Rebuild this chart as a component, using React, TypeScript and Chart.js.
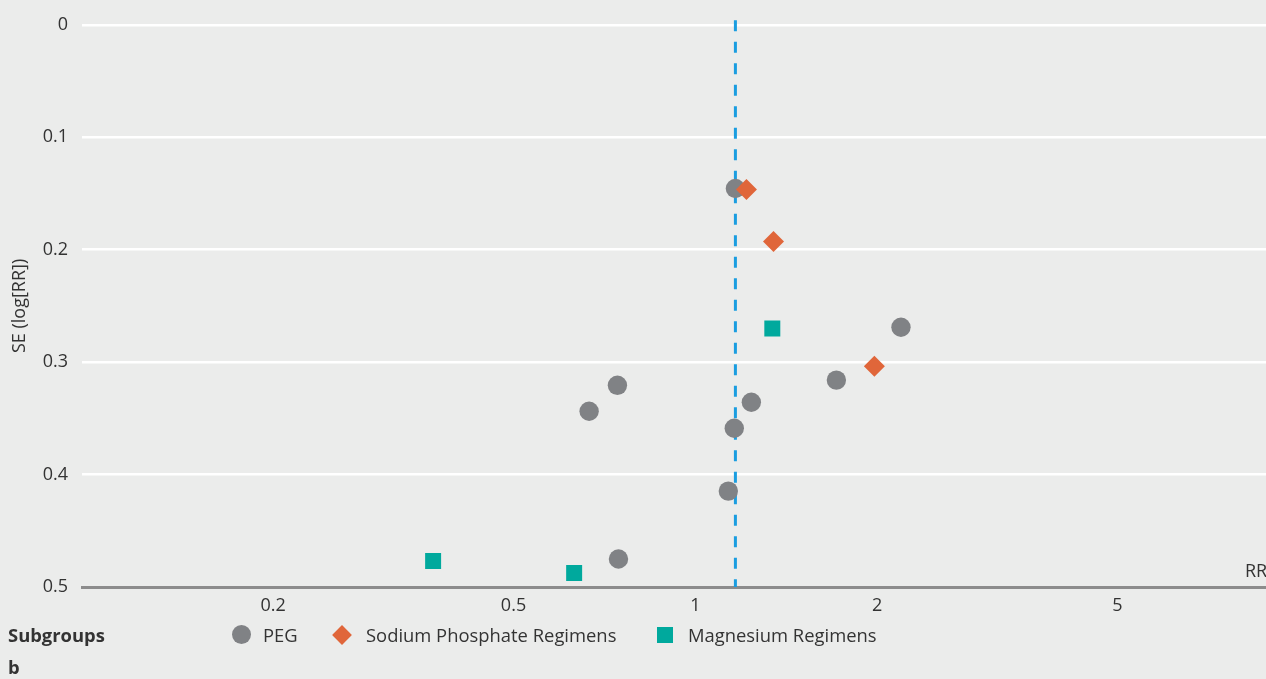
import React, { useEffect, useRef } from "react";
import { Chart, registerables } from "chart.js";

Chart.register(...registerables);

// ---- Data ----
const pegRR = [1.165, 2.19, 0.743, 0.667, 1.238, 1.712, 1.16, 1.134, 0.746];
const pegSE = [0.1456, 0.269, 0.3206, 0.3437, 0.3357, 0.316, 0.3588, 0.4147, 0.4751];

const sodiumRR = [1.215, 1.347, 1.979];
const sodiumSE = [0.1465, 0.1927, 0.3037];

const magnesiumRR = [1.341, 0.368, 0.63];
const magnesiumSE = [0.27, 0.4769, 0.4876];

const pooledRR = 1.165;
const pooledSE = [-0.004, 0.5];

const xTickValues = [0.2, 0.5, 1, 2, 5];
const yTickValues = [0, 0.1, 0.2, 0.3, 0.4, 0.5];

const seriesLabels = ["PEG", "Sodium Phosphate Regimens", "Magnesium Regimens"];

const COLORS = {
  bg: "#ebeceb",
  peg: "#808285",
  sodium: "#e0663a",
  magnesium: "#00a99d",
  pooled: "#1a9de0",
  text: "#333333",
  axis: "#8c8c8c",
};

const FONT = "'Open Sans', 'Noto Sans', sans-serif";

const toPoints = (xs: number[], ys: number[]) => xs.map((x, i) => ({ x, y: ys[i] }));

export default function App() {
  const canvasRef = useRef<HTMLCanvasElement | null>(null);

  useEffect(() => {
    const canvas = canvasRef.current;
    if (!canvas) return;
    const chart = new Chart(canvas, {
      type: "scatter",
      data: {
        datasets: [
          {
            label: "pooled",
            type: "line",
            data: pooledSE.map((y) => ({ x: pooledRR, y })),
            borderColor: COLORS.pooled,
            borderWidth: 3,
            borderDash: [11, 10.5],
            pointRadius: 0,
            clip: false as any,
            order: 4,
          } as any,
          {
            label: seriesLabels[0],
            data: toPoints(pegRR, pegSE),
            pointStyle: "circle",
            pointRadius: 9.7,
            backgroundColor: COLORS.peg,
            borderWidth: 0,
            order: 3,
          },
          {
            label: seriesLabels[1],
            data: toPoints(sodiumRR, sodiumSE),
            pointStyle: "rectRot",
            pointRadius: 10.5,
            backgroundColor: COLORS.sodium,
            borderWidth: 0,
            order: 1,
          },
          {
            label: seriesLabels[2],
            data: toPoints(magnesiumRR, magnesiumSE),
            pointStyle: "rect",
            pointRadius: 11.3,
            backgroundColor: COLORS.magnesium,
            borderWidth: 0,
            order: 2,
          },
        ],
      },
      options: {
        animation: false,
        responsive: false,
        maintainAspectRatio: false,
        layout: { padding: { top: 24, right: 0, bottom: 52, left: 0 } },
        plugins: {
          legend: { display: false },
          tooltip: { enabled: false },
        },
        scales: {
          x: {
            type: "logarithmic",
            min: 0.0965,
            max: 8.83,
            afterBuildTicks: (scale: any) => {
              scale.ticks = xTickValues.map((v) => ({ value: v }));
            },
            afterFit: (scale: any) => {
              scale.height = 40;
            },
            grid: { display: false, drawTicks: false },
            border: { display: true, color: COLORS.axis, width: 3 },
            ticks: {
              color: COLORS.text,
              font: { family: FONT, size: 18 },
              padding: 8,
              autoSkip: false,
              maxRotation: 0,
              callback: (v: any) => String(v),
            },
          },
          y: {
            type: "linear",
            reverse: true,
            min: 0,
            max: 0.5,
            afterBuildTicks: (scale: any) => {
              scale.ticks = yTickValues.map((v) => ({ value: v }));
            },
            afterFit: (scale: any) => {
              scale.width = 82;
            },
            grid: {
              color: "#ffffff",
              lineWidth: 2.5,
              drawTicks: false,
            },
            border: { display: false },
            title: {
              display: true,
              text: "SE (log[RR])",
              color: COLORS.text,
              font: { family: FONT, size: 18 },
              padding: { top: 9, bottom: 0 },
            },
            ticks: {
              color: COLORS.text,
              font: { family: FONT, size: 18 },
              padding: 14,
              callback: (v: any) => String(Number(v)),
            },
          },
        },
      },
    } as any);
    return () => chart.destroy();
  }, []);

  const legendText: React.CSSProperties = {
    position: "absolute",
    top: 622,
    fontFamily: FONT,
    fontSize: 18.4,
    color: COLORS.text,
    lineHeight: "26px",
    whiteSpace: "nowrap",
  };

  return (
    <div
      style={{
        position: "fixed",
        left: 0,
        top: 0,
        width: 1266,
        height: 679,
        background: COLORS.bg,
        overflow: "hidden",
      }}
    >
      <canvas ref={canvasRef} width={1278} height={679} style={{ display: "block" }} />
      <div style={{ ...legendText, left: 1245, top: 557, fontSize: 18 }}>RR</div>
      <div style={{ ...legendText, left: 8, fontWeight: 700 }}>Subgroups</div>
      <div
        style={{
          position: "absolute",
          left: 232,
          top: 625,
          width: 19,
          height: 19,
          borderRadius: "50%",
          background: COLORS.peg,
        }}
      />
      <div style={{ ...legendText, left: 263 }}>{seriesLabels[0]}</div>
      <div
        style={{
          position: "absolute",
          left: 335,
          top: 628,
          width: 14,
          height: 14,
          transform: "rotate(45deg)",
          background: COLORS.sodium,
        }}
      />
      <div style={{ ...legendText, left: 366 }}>{seriesLabels[1]}</div>
      <div
        style={{
          position: "absolute",
          left: 657,
          top: 627,
          width: 16,
          height: 16,
          background: COLORS.magnesium,
        }}
      />
      <div style={{ ...legendText, left: 688 }}>{seriesLabels[2]}</div>
      <div style={{ ...legendText, left: 8, top: 654, fontWeight: 700 }}>b</div>
    </div>
  );
}
